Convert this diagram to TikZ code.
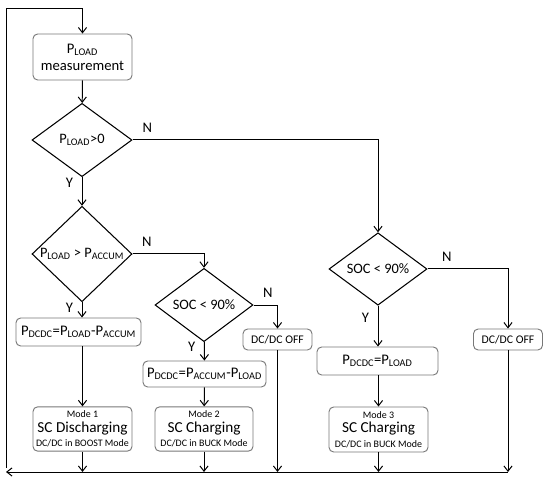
\documentclass[tikz,border=0pt]{standalone}
\usepackage{fontspec}
\setmainfont{Carlito}
\usepackage{tikz}
\usetikzlibrary{shapes.geometric, arrows.meta, positioning, calc}
\definecolor{boxgray}{RGB}{120,120,120}
\tikzset{
  flowbox/.style={rectangle, draw=boxgray, rounded corners=4pt, line width=0.8pt,
    inner sep=0pt, align=center, font=\fontsize{12.5}{14.5}\selectfont},
  decision/.style={diamond, draw=black, line width=0.9pt, inner sep=0pt,
    minimum width=3cm, minimum height=2.2cm, font=\fontsize{12.3}{14}\selectfont},
  offbox/.style={flowbox, minimum width=2.07cm, minimum height=0.63cm,
    font=\fontsize{10}{12}\selectfont},
  modebox/.style={flowbox, minimum width=2.97cm, minimum height=1.33cm,
    font=\fontsize{8.5}{12.5}\selectfont},
  arrow/.style={-{Straight Barb[length=4.5pt, width=7pt]}, line width=0.85pt},
  line/.style={line width=0.85pt},
  yn/.style={font=\fontsize{12.5}{14}\selectfont}
}
\newcommand{\bigmode}[1]{{\fontsize{13}{15}\selectfont #1}}

\begin{document}
\begin{tikzpicture}[x=0.03cm, y=-0.03cm]
  \useasboundingbox (0,0) rectangle (550,483);

  % Nodes
  \node[flowbox, minimum width=2.97cm, minimum height=1.38cm] (meas) at (82.5,57)
    {P\textsubscript{LOAD}\\measurement};
  \node[decision] (pload) at (82,140) {P\textsubscript{LOAD}>0};
  \node[decision, minimum height=2.16cm] (paccum) at (82,254)
    {P\textsubscript{LOAD} > P\textsubscript{ACCUM}};
  \node[decision, minimum width=2.94cm] (socA) at (204,305) {SOC < 90\%};
  \node[decision, minimum width=2.94cm, minimum height=2.16cm] (socB) at (378,269) {SOC < 90\%};

  \node[flowbox, minimum width=3.75cm, minimum height=0.84cm] (pdA) at (78.5,332)
    {P\textsubscript{DCDC}=P\textsubscript{LOAD}-P\textsubscript{ACCUM}};
  \node[flowbox, minimum width=3.69cm, minimum height=0.78cm] (pdB) at (204.5,374)
    {P\textsubscript{DCDC}=P\textsubscript{ACCUM}-P\textsubscript{LOAD}};
  \node[flowbox, minimum width=3.63cm, minimum height=0.84cm] (pdC) at (377.5,361)
    {P\textsubscript{DCDC}=P\textsubscript{LOAD}};
  \node[offbox] (offA) at (277.5,339.5) {DC/DC OFF};
  \node[offbox] (offB) at (508,339.5) {DC/DC OFF};

  \node[modebox] (modeA) at (82.5,429)
    {Mode 1\\\bigmode{SC Discharging}\\DC/DC in BOOST Mode};
  \node[modebox, minimum width=2.94cm] (modeB) at (204,429)
    {Mode 2\\\bigmode{SC Charging}\\DC/DC in BUCK Mode};
  \node[modebox, minimum height=1.35cm] (modeC) at (378.5,429.5)
    {Mode 3\\\bigmode{SC Charging}\\DC/DC in BUCK Mode};

  \coordinate (loopL) at (6,468);
  \coordinate (loopT) at (6,9);
  \coordinate (retR) at (508,472);
  \coordinate (retL) at (6,472);

  % Main chain
  \draw[line] (loopL) -- (loopT) -| ($(meas.north)+(0,-12)$);
  \draw[arrow] ($(meas.north)+(0,-12)$) -- (meas.north);
  \draw[arrow] (meas) -- (pload);
  \draw[arrow] (pload) -- (paccum) node[yn, pos=0.2, left=4pt] {Y};
  \draw[arrow] (pload.east) -| (socB.north) node[yn, pos=0.03, above=3pt] {N};
  \draw[arrow] (paccum.south) -- (paccum.south |- pdA.north) node[yn, pos=0.35, left=4pt] {Y};
  \draw[arrow] (paccum.east) -| (socA.north) node[yn, pos=0.1, above=3pt] {N};
  \draw[arrow] (socA) -- (pdB) node[yn, pos=0.25, left=4pt] {Y};
  \draw[arrow] (socA.east) -| (offA.north) node[yn, pos=0.3, above=3pt] {N};
  \draw[arrow] (socB.south) -- (socB.south |- pdC.north) node[yn, pos=0.3, left=4pt] {Y};
  \draw[arrow] (socB.east) -| (offB.north) node[yn, pos=0.12, above=3pt] {N};

  % Modes
  \draw[arrow] (pdA.south -| modeA.north) -- (modeA.north);
  \draw[arrow] (pdB) -- (modeB);
  \draw[arrow] (pdC.south -| modeC.north) -- (modeC.north);

  % Return to start
  \draw[arrow] (modeA.south) -- (modeA.south |- retR);
  \draw[arrow] (modeB.south) -- (modeB.south |- retR);
  \draw[arrow] (offA.south) -- (offA.south |- retR);
  \draw[arrow] (modeC.south) -- (modeC.south |- retR);
  \draw[arrow] (offB.south) -- (retR);
  \draw[arrow] (retR) -- (retL);
\end{tikzpicture}
\end{document}
